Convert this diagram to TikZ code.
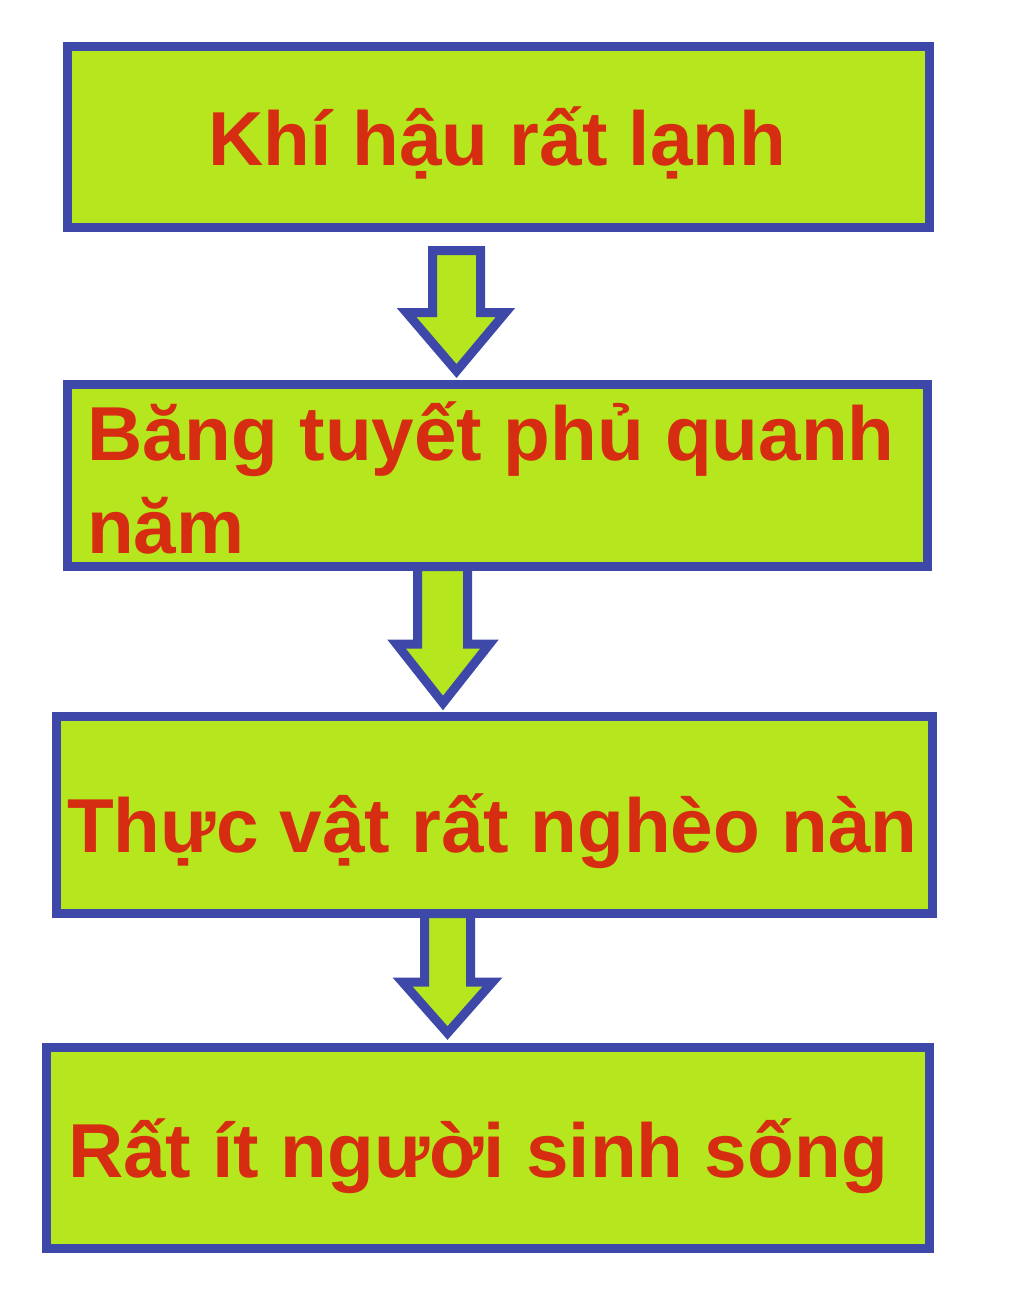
\documentclass[tikz,border=0pt]{standalone}
\usepackage{fontspec}
\setmainfont{Liberation Sans}
\definecolor{boxfill}{RGB}{181,230,30}
\definecolor{boxline}{RGB}{62,72,168}
\definecolor{txtred}{RGB}{214,44,18}
\begin{document}
\begin{tikzpicture}[x=1pt,y=-1pt,
  flowbox/.style={draw=boxline,fill=boxfill,line width=9pt,inner sep=0pt,rectangle},
  blockarrow/.style={draw=boxline,fill=boxfill,line width=9pt,line join=miter},
  flowtext/.style={text=txtred,font=\fontsize{76.5}{93}\selectfont\bfseries,inner sep=0pt,anchor=base west}]
\useasboundingbox[fill=white] (0,0) rectangle (1024,1292);
% boxes
\node[flowbox,minimum width=862pt,minimum height=181pt] (b1) at (498.5,137) {};
\node[flowbox,minimum width=860pt,minimum height=182pt] (b2) at (497.5,475.5) {};
\node[flowbox,minimum width=876pt,minimum height=197pt] (b3) at (494.5,815) {};
\node[flowbox,minimum width=883pt,minimum height=201pt] (b4) at (488,1148) {};
% arrows
\draw[blockarrow] (432.5,250.5) -- (480.5,250.5) -- (480.5,312.5) -- (505.5,312.5)
  -- (456.5,371) -- (406.5,312.5) -- (432.5,312.5) -- cycle;
\draw[blockarrow] (417.5,566.5) -- (467.5,566.5) -- (467.5,644) -- (489.5,644)
  -- (443,703) -- (396.5,644) -- (417.5,644) -- cycle;
\draw[blockarrow] (424.5,913.5) -- (470.5,913.5) -- (470.5,982) -- (492.5,982)
  -- (447.5,1033) -- (402.5,982) -- (424.5,982) -- cycle;
% texts
\node[flowtext] (t1) at (208,166) {Khí hậu rất lạnh};
\node[flowtext] (t2a) at (87,460) {Băng tuyết phủ quanh};
\node[flowtext] (t2b) at (87,553) {năm};
\node[flowtext] (t3) at (67,852) {Thực vật rất nghèo nàn};
\node[flowtext] (t4) at (68,1177) {Rất ít người sinh sống};
\end{tikzpicture}
\end{document}
